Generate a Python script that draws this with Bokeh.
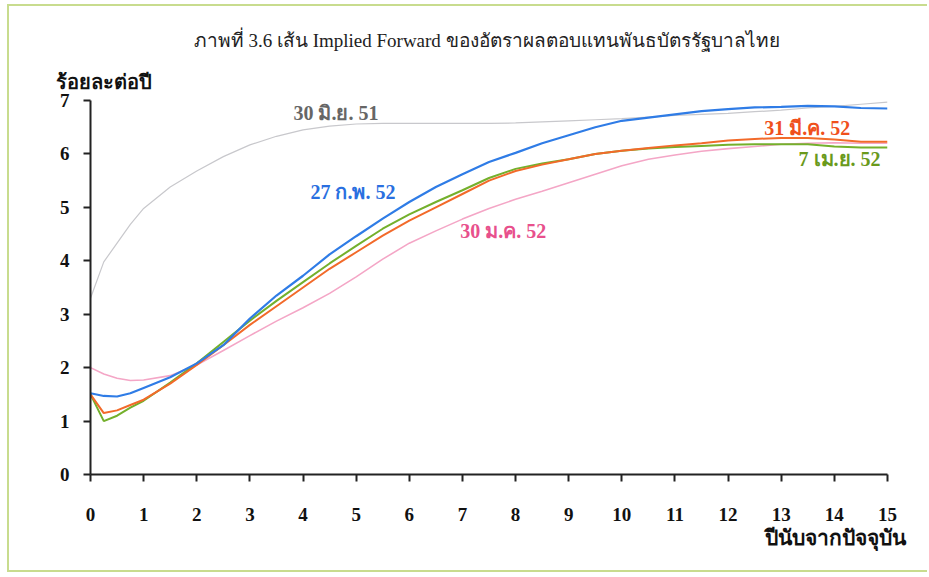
from bokeh.plotting import figure
from bokeh.models import Label, FixedTicker, ColumnDataSource, Title, InlineStyleSheet
from bokeh.embed import file_html
from bokeh.resources import INLINE

years = [0, 0.25, 0.5, 0.75, 1, 1.5, 2, 2.5, 3, 3.5, 4, 4.5, 5, 5.5, 6, 6.5, 7, 7.5,
         8, 8.5, 9, 9.5, 10, 10.5, 11, 11.5, 12, 12.5, 13, 13.5, 14, 14.5, 15]

jun51 = [3.3, 3.98, 4.33, 4.68, 4.98, 5.38, 5.68, 5.95, 6.17, 6.33, 6.45, 6.52, 6.56, 6.57,
         6.57, 6.57, 6.57, 6.57, 6.58, 6.6, 6.62, 6.64, 6.66, 6.69, 6.72, 6.74, 6.76, 6.79,
         6.82, 6.86, 6.89, 6.93, 6.97]
jan52 = [2.0, 1.88, 1.8, 1.76, 1.77, 1.85, 2.05, 2.32, 2.6, 2.87, 3.12, 3.39, 3.7, 4.03,
         4.33, 4.56, 4.78, 4.98, 5.15, 5.3, 5.46, 5.62, 5.78, 5.9, 5.98, 6.05, 6.1, 6.14,
         6.18, 6.2, 6.21, 6.2, 6.2]
feb52 = [1.52, 1.47, 1.46, 1.52, 1.62, 1.82, 2.08, 2.42, 2.92, 3.35, 3.72, 4.12, 4.46, 4.79,
         5.1, 5.38, 5.62, 5.85, 6.02, 6.2, 6.35, 6.5, 6.62, 6.68, 6.74, 6.8, 6.84, 6.87,
         6.88, 6.9, 6.89, 6.86, 6.85]
mar52 = [1.5, 1.15, 1.2, 1.3, 1.4, 1.7, 2.05, 2.42, 2.8, 3.15, 3.5, 3.85, 4.16, 4.47,
         4.75, 5.0, 5.25, 5.5, 5.68, 5.8, 5.9, 6.0, 6.06, 6.11, 6.16, 6.2, 6.25, 6.28,
         6.3, 6.3, 6.27, 6.23, 6.23]
apr52 = [1.5, 1.0, 1.1, 1.25, 1.38, 1.72, 2.08, 2.48, 2.88, 3.25, 3.6, 3.95, 4.28, 4.6,
         4.87, 5.1, 5.32, 5.55, 5.72, 5.82, 5.9, 6.0, 6.06, 6.1, 6.13, 6.15, 6.17, 6.18,
         6.18, 6.18, 6.14, 6.12, 6.12]

x_ticks = list(range(0, 16))
y_ticks = list(range(0, 8))

title_text = "ภาพที่ 3.6  เส้น Implied Forward ของอัตราผลตอบแทนพันธบัตรรัฐบาลไทย"
y_title = "ร้อยละต่อปี"
x_title = "ปีนับจากปัจจุบัน"
series_labels = ["30 มิ.ย. 51", "27 ก.พ. 52", "30 ม.ค. 52", "31 มี.ค. 52", "7 เม.ย. 52"]

SERIF = "Liberation Serif"

p = figure(width=920, height=568, x_range=(0, 15), y_range=(0, 7),
           output_backend="svg", toolbar_location=None, title=None,
           min_border_left=81, min_border_right=42, min_border_top=94, min_border_bottom=100)
p.outline_line_color = None
p.xgrid.visible = False
p.ygrid.visible = False
p.background_fill_color = "white"
p.border_fill_color = "white"
p.stylesheets = [InlineStyleSheet(css=":host { margin-left: 7px; margin-top: 4px; "
                                      "border-left: 2px solid #c8dc8e; border-top: 2px solid #c8dc8e; "
                                      "border-bottom: 2px solid #c8dc8e; }")]

src = ColumnDataSource(dict(x=years, jun51=jun51, jan52=jan52, feb52=feb52, mar52=mar52, apr52=apr52))
p.line("x", "jun51", source=src, line_color="#c8c8cc", line_width=1.2)
p.line("x", "jan52", source=src, line_color="#f4a6c6", line_width=1.6)
p.line("x", "apr52", source=src, line_color="#74b02c", line_width=2)
p.line("x", "mar52", source=src, line_color="#f26a2a", line_width=2)
p.line("x", "feb52", source=src, line_color="#2f7ce6", line_width=2.2)

for ax in (p.xaxis[0], p.yaxis[0]):
    ax.axis_line_color = "#222222"
    ax.axis_line_width = 2
    ax.major_tick_line_color = "#222222"
    ax.major_tick_line_width = 2
    ax.major_tick_in = 0
    ax.major_tick_out = 7
    ax.minor_tick_line_color = None
    ax.major_label_text_font = SERIF
    ax.major_label_text_font_style = "bold"
    ax.major_label_text_font_size = "19px"
    ax.major_label_text_color = "#111111"

p.xaxis.ticker = FixedTicker(ticks=x_ticks)
p.yaxis.ticker = FixedTicker(ticks=y_ticks)
p.xaxis.major_label_standoff = 26
p.yaxis.major_label_standoff = 14

# titles placed in side panels (not clipped)
p.add_layout(Title(text=y_title, align="left", offset=-35, standoff=15,
                   text_font=SERIF, text_font_style="bold", text_font_size="20px",
                   text_color="#111111"), "above")
p.add_layout(Title(text=title_text, align="center", standoff=21,
                   text_font=SERIF, text_font_style="normal", text_font_size="19px",
                   text_color="#222222"), "above")
p.add_layout(Title(text=x_title, align="right", offset=-18, standoff=0,
                   text_font=SERIF, text_font_style="bold", text_font_size="21px",
                   text_color="#111111"), "below")

def add_label(x, y, text, color, size, align="left"):
    p.add_layout(Label(x=x, y=y, text=text, text_color=color, text_font=SERIF,
                       text_font_size=size, text_font_style="bold",
                       text_align=align, text_baseline="middle"))

add_label(3.82, 6.76, series_labels[0], "#666666", "20px")
add_label(4.14, 5.28, series_labels[1], "#2a6fe0", "20px")
add_label(6.96, 4.55, series_labels[2], "#e8508c", "20px")
add_label(14.3, 6.48, series_labels[3], "#f0501c", "20px", align="right")
add_label(14.87, 5.91, series_labels[4], "#6a9a1c", "20px", align="right")

open("out.html", "w").write(file_html(p, INLINE))
